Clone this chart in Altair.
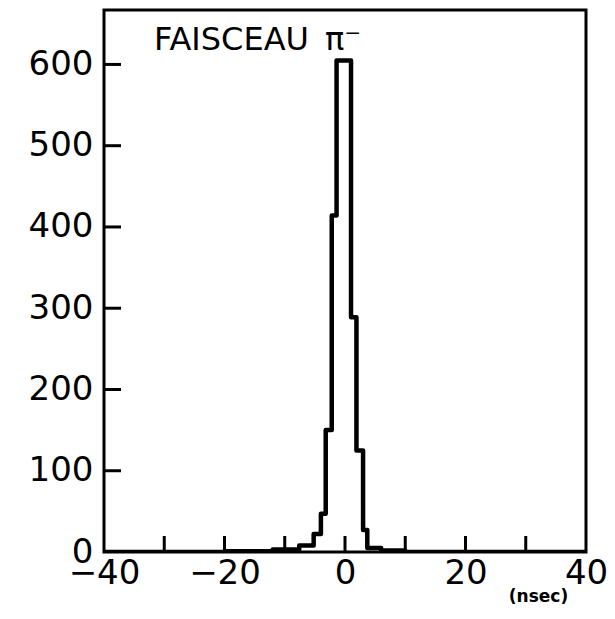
import altair as alt
import pandas as pd

# Histogram bin edges (ns) and counts
bin_edges = [-40, -20, -12, -7.6, -5.2, -4.0, -3.2, -2.2, -1.4, 1.0, 1.9, 3.0, 3.7, 6.0, 10.0, 40]
bin_counts = [0, 1, 3, 8, 22, 47, 150, 414, 605, 289, 125, 27, 5, 2, 0]

x_minor_ticks = [-30, -20, -10, 0, 10, 20, 30]
x_label_values = [-40, -20, 0, 20, 40]
y_tick_values = [100, 200, 300, 400, 500, 600]
y_label_values = [0, 100, 200, 300, 400, 500, 600]

FONT = "DejaVu Sans"
W, H = 482, 542

pts_x = list(bin_edges[:-1]) + [bin_edges[-1]]
pts_y = list(bin_counts) + [0]
hist = pd.DataFrame({"t": pts_x, "n": pts_y, "i": list(range(len(pts_x)))})
xt = pd.DataFrame({"t": x_minor_ticks})
yt = pd.DataFrame({"n": y_tick_values})

xscale = alt.Scale(domain=[-40, 40], nice=False, zero=False)
yscale = alt.Scale(domain=[0, 667], nice=False)

x_axis = alt.Axis(
    values=x_label_values, domain=False, ticks=False, tickSize=0, grid=False,
    labelFont=FONT, labelFontSize=34, labelColor="black", labelPadding=4,
    labelFlush=False, labelOverlap=False, labelBaseline="top",
    title="(nsec)", titleFont=FONT, titleFontSize=17, titleFontWeight="bold",
    titleColor="black", titleX=434, titleY=49, titleAlign="center",
    titleBaseline="alphabetic")
y_axis = alt.Axis(
    values=y_label_values, domain=False, ticks=False, tickSize=0, grid=False,
    labelFont=FONT, labelFontSize=34, labelColor="black", labelPadding=11,
    labelOverlap=False, title=None)

line = alt.Chart(hist).mark_line(
    interpolate="step-after", color="black", strokeWidth=4.5, strokeJoin="round", clip=True
).encode(
    x=alt.X("t:Q", scale=xscale, axis=x_axis),
    y=alt.Y("n:Q", scale=yscale, axis=y_axis),
    order="i:Q",
)

xticks = alt.Chart(xt).mark_rule(color="black", strokeWidth=3).encode(
    x=alt.X("t:Q", scale=xscale, axis=x_axis),
    y=alt.value(H), y2=alt.value(H - 16),
)

yticks = alt.Chart(yt).mark_rule(color="black", strokeWidth=3).encode(
    y=alt.Y("n:Q", scale=yscale, axis=y_axis),
    x=alt.value(0), x2=alt.value(17),
)

chart = alt.layer(line, xticks, yticks).properties(
    width=W, height=H,
    title=alt.TitleParams(
        text="FAISCEAU\u2002π⁻", anchor="start", frame="group", orient="top",
        offset=-40, dx=50, dy=32, font=FONT, fontSize=32, fontWeight="normal",
        color="black", baseline="alphabetic"),
    autosize=alt.AutoSizeParams(type="none"),
    padding={"left": 96, "top": 2, "right": 21, "bottom": 54},
    background="white",
).configure_view(stroke="black", strokeWidth=3)

chart.save("out.html", embed_options={"renderer": "svg", "actions": False})
